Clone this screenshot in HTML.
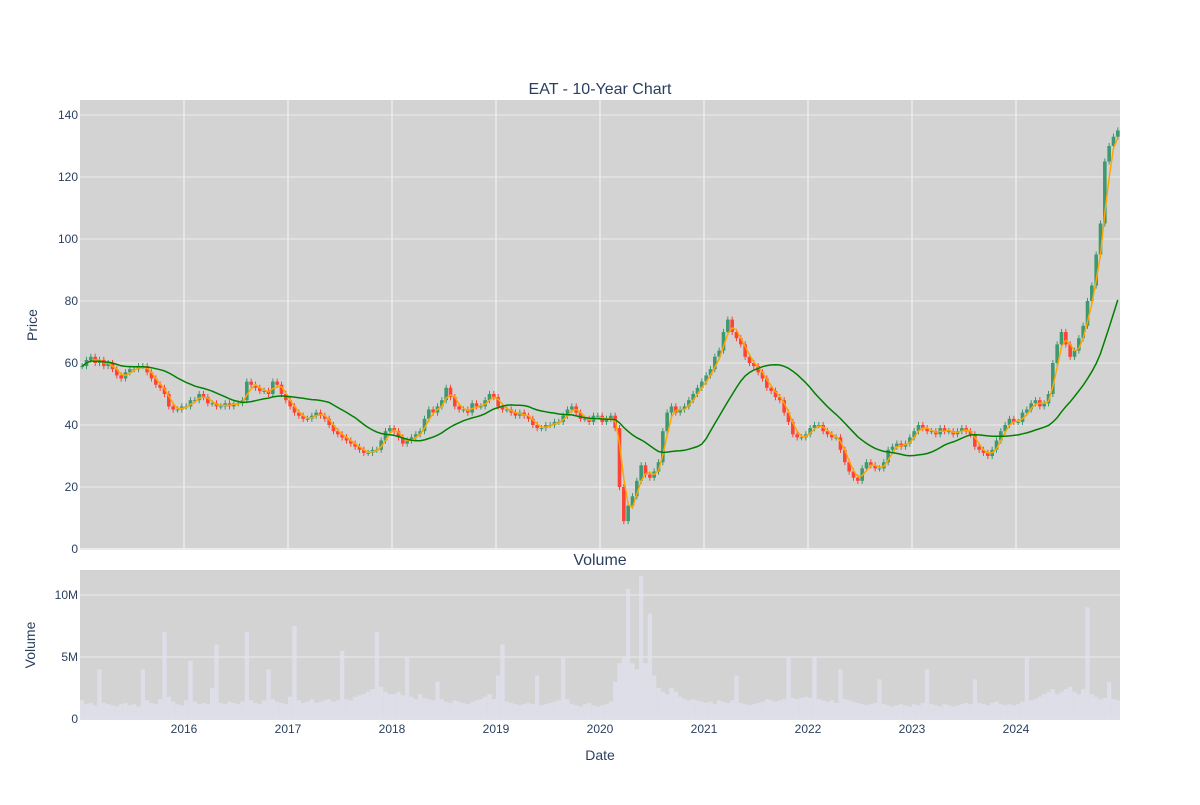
<!DOCTYPE html>
<html><head><meta charset="utf-8"><style>
body{margin:0;background:#fff;font-family:"Liberation Sans",sans-serif}
svg text{font-family:"Liberation Sans",sans-serif;fill:#2a3f5f}
</style></head><body>
<svg id="chart" width="1200" height="800" xmlns="http://www.w3.org/2000/svg">
<rect width="1200" height="800" fill="#fff"/>
<text x="600" y="94" text-anchor="middle" font-size="16">EAT - 10-Year Chart</text>
<rect x="80" y="100" width="1040" height="449" fill="#d3d3d3"/>
<rect x="80" y="570" width="1040" height="150" fill="#d3d3d3"/>
<text x="600" y="565" text-anchor="middle" font-size="16">Volume</text>
<text transform="translate(37,325) rotate(-90)" text-anchor="middle" font-size="14">Price</text>
<text transform="translate(35,645) rotate(-90)" text-anchor="middle" font-size="14">Volume</text>
<text x="600" y="760" text-anchor="middle" font-size="14">Date</text>
<g id="grid"></g><g id="vol"></g><g id="candles"></g><g id="ma"></g><g id="ticks"></g>
</svg>
<script>
const closes = [
59,61,62,60,61,59,60,58,56,55,57,58,58,59,59,57,55,53,52,50,46,45,45,46,
46,48,48,50,49,47,47,46,46,47,46,47,47,48,54,53,52,51,51,50,54,53,50,48,
46,44,43,42,42,43,44,43,42,40,38,37,36,35,34,33,32,31,31,32,32,35,38,39,
38,36,34,35,36,37,38,42,45,44,46,48,52,49,46,45,45,44,47,46,46,48,50,49,
46,45,45,44,43,44,43,42,40,39,39,40,40,41,41,43,45,46,44,42,42,41,43,43,
41,42,43,39,20,9,14,17,22,27,24,23,25,28,38,44,46,44,45,46,48,50,52,54,
56,58,62,64,70,74,70,68,66,62,60,59,57,55,52,51,49,48,44,41,37,36,36,37,
39,40,40,38,37,36,36,32,28,25,23,22,26,28,27,26,26,28,32,33,34,33,34,36,
38,40,39,38,38,37,39,38,38,37,38,39,38,37,33,32,31,30,32,35,38,40,42,41,
41,44,45,47,48,46,47,50,60,66,70,66,62,64,68,72,80,85,95,105,125,130,133,135];
const volumes = [
1.5,1.2,1.3,1.1,4,1.3,1.2,1.1,1.0,1.2,1.3,1.1,1.2,1.0,4,1.5,1.3,1.2,1.6,7,1.8,1.4,1.2,1.1,
1.5,4.7,1.4,1.2,1.3,1.2,2.5,6,1.3,1.2,1.4,1.3,1.2,1.4,7,1.5,1.3,1.2,1.5,4,1.6,1.4,1.3,1.2,
1.8,7.5,1.5,1.3,1.4,1.6,1.3,1.4,1.5,1.6,1.4,1.5,5.5,1.6,1.5,1.8,1.9,2.0,2.2,2.4,7,2.6,2.2,2.0,
2.0,2.2,1.9,5,1.8,1.6,2.0,1.7,1.6,1.5,3,1.6,1.4,1.3,1.5,1.4,1.3,1.2,1.4,1.5,1.6,1.8,2.0,1.6,
3.5,6,1.4,1.3,1.2,1.1,1.2,1.3,1.2,3.5,1.1,1.2,1.3,1.4,1.5,5,1.6,1.2,1.1,1.0,1.2,1.3,1.1,1.0,
1.1,1.2,1.4,3,4.5,5,10.5,4.5,4,11.5,4.5,8.5,3.5,2.5,2.2,2.0,2.5,2.2,1.8,1.6,1.5,1.6,1.5,1.4,
1.3,1.4,1.2,1.5,1.4,1.3,1.5,3.5,1.3,1.2,1.1,1.2,1.3,1.4,1.6,1.5,1.4,1.5,1.6,5,1.7,1.6,1.7,1.8,
1.7,5,1.6,1.5,1.4,1.5,1.3,4,1.6,1.5,1.4,1.3,1.2,1.1,1.2,1.3,3.2,1.2,1.1,1.0,1.1,1.2,1.1,1.0,
1.2,1.1,1.3,4,1.2,1.1,1.0,1.2,1.1,1.0,1.1,1.2,1.3,1.2,3.2,1.3,1.2,1.1,1.3,1.4,1.2,1.1,1.2,1.1,
1.2,1.4,5,1.5,1.6,1.8,2.0,2.2,2.4,2.0,2.2,2.4,2.6,2.2,2.0,2.4,9,2.0,1.8,1.6,1.7,3,1.6,1.5];
const yearLabels = ["2016","2017","2018","2019","2020","2021","2022","2023","2024"];
const priceTicks = [0,20,40,60,80,100,120,140];
const volTicks = [0,5,10];
const volTickLabels = ["0","5M","10M"];

const NS="http://www.w3.org/2000/svg";
const N=closes.length;
const xi=i=>80+(i+0.5)*1040/N;
const xYear=y=>80+(y-2015)*104;
const yP=v=>549-v*3.1;
const yV=v=>719-v*12.4;
function mk(tag,attrs,parent){const e=document.createElementNS(NS,tag);for(const k in attrs)e.setAttribute(k,attrs[k]);document.getElementById(parent).appendChild(e);return e;}

priceTicks.forEach(t=>{
  const l=mk('line',{x1:80,x2:1120,y1:yP(t),y2:yP(t),stroke:'#ebebeb','stroke-width':t===0?2:1},'grid');
  
  
  const tx=mk('text',{x:78,y:yP(t)+4,'text-anchor':'end','font-size':12},'ticks');
  tx.textContent=t;
  
  
});
volTicks.forEach((t,k)=>{
  const l=mk('line',{x1:80,x2:1120,y1:yV(t),y2:yV(t),stroke:'#ebebeb','stroke-width':1},'grid');
  
  
  const tx=mk('text',{x:78,y:yV(t)+4,'text-anchor':'end','font-size':12},'ticks');
  tx.textContent=volTickLabels[k];
  
  
});
yearLabels.forEach(y=>{
  const x=xYear(+y);
  const l=mk('line',{x1:x,x2:x,y1:100,y2:549,stroke:'#ebebeb','stroke-width':1.5},'grid');
  
  
  const tx=mk('text',{x:x,y:733,'text-anchor':'middle','font-size':12},'ticks');
  tx.textContent=y;
  
  
});
volumes.forEach((v,i)=>{
  const w=1040/N;
  const r=mk('rect',{x:xi(i)-w/2,y:yV(v),width:w,height:yV(0)-yV(v),fill:'#e2e2f0','fill-opacity':0.75},'vol');
  
  
});
closes.forEach((c,i)=>{
  const o=i===0?c:closes[i-1];
  const up=c>=o;
  const col=up?'#3D9970':'#FF4136';
  const hi=Math.max(o,c)+1,lo=Math.min(o,c)-1;
  const wk=mk('line',{x1:xi(i),x2:xi(i),y1:yP(hi),y2:yP(lo),stroke:col,'stroke-width':1},'candles');
  
  
  const b=mk('rect',{x:xi(i)-1.8,y:yP(Math.max(o,c)),width:3.6,height:Math.max(1,Math.abs(yP(o)-yP(c))),fill:col},'candles');
  
  
});
function ma(win){return closes.map((_,i)=>{const s=Math.max(0,i-win+1);let t=0;for(let j=s;j<=i;j++)t+=closes[j];return t/(i-s+1);});}
[[ma(3),'orange','short-moving-average'],[ma(20),'green','long-moving-average']].forEach(([arr,col,name])=>{
  const p=mk('path',{d:arr.map((v,i)=>(i?'L':'M')+xi(i).toFixed(1)+','+yP(v).toFixed(1)).join(''),fill:'none',stroke:col,'stroke-width':1.5},'ma');
  
  
});
</script>
</body></html>
